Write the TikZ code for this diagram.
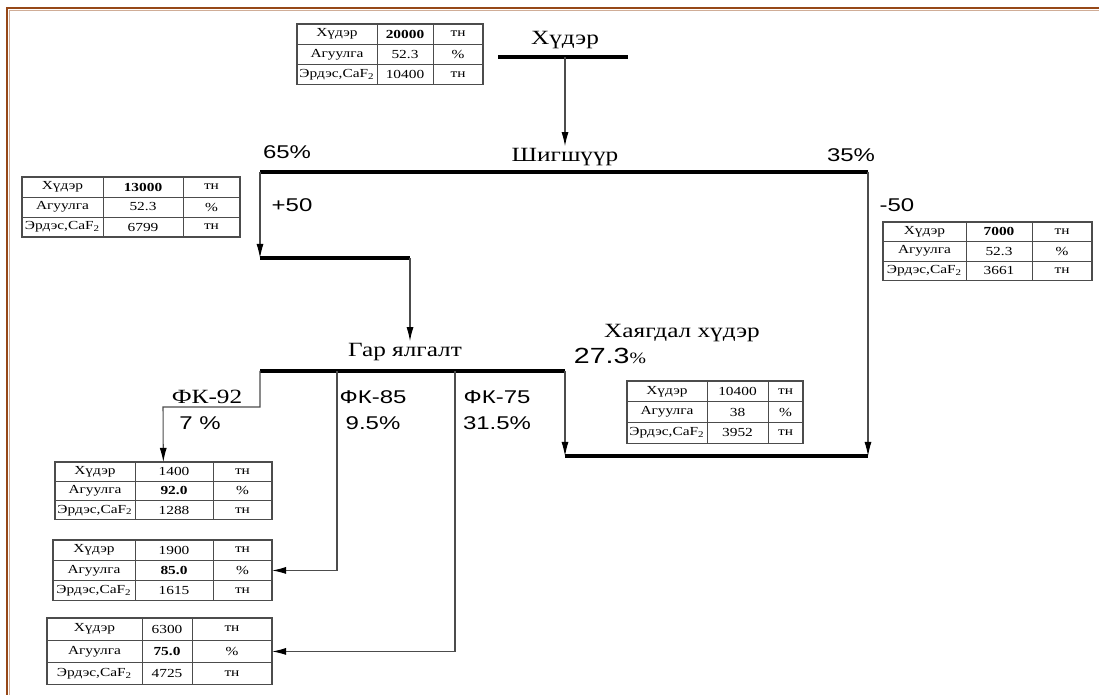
\documentclass[tikz,border=0pt]{standalone}
\usepackage{fontspec}
\setmainfont[FakeStretch=1.25]{Liberation Serif}
\newfontfamily\numfont[FakeStretch=1.3]{Liberation Sans}
\usetikzlibrary{arrows.meta}
\definecolor{framec}{RGB}{150,72,24}
\tikzset{
  bar/.style={line width=2pt,black},
  flow/.style={line width=0.6pt,black!70},
  flowarr/.style={flow,-{Latex[length=8pt,width=4pt,color=black]}},
  tabbox/.style={draw=black!70,line width=0.6pt,inner sep=0pt,outer sep=0pt},
  tabline/.style={black!70,line width=0.5pt},
  cell/.style={font=\fontsize{7}{8}\selectfont,inner sep=0pt},
  lab/.style={font=\fontsize{11.5}{13}\selectfont,inner sep=1pt},
  pct/.style={font=\numfont\fontsize{10.5}{12}\selectfont,inner sep=1pt},
}
% table: name, top-left, three column widths, row height, three values
\newcommand{\datatab}[9]{%
  \begin{scope}[shift={#2}]
    \node[tabbox,anchor=north west,minimum width={(#3+#4+#5)*0.02cm},minimum height={3*#6*0.02cm}] (#1) at (0,0) {};
    \draw[tabline] (#3,0) -- (#3,{3*#6}) ({#3+#4},0) -- ({#3+#4},{3*#6})
      (0,#6) -- ({#3+#4+#5},#6) (0,{2*#6}) -- ({#3+#4+#5},{2*#6});
    \node[cell] (#1-l1) at ({#3/2},{#6/2}) {Хүдэр};
    \node[cell] (#1-l2) at ({#3/2},{1.5*#6}) {Агуулга};
    \node[cell] (#1-l3) at ({#3/2},{2.5*#6}) {Эрдэс,CaF\textsubscript{2}};
    \node[cell] (#1-v1) at ({#3+#4/2},{#6/2}) {#7};
    \node[cell] (#1-v2) at ({#3+#4/2},{1.5*#6}) {#8};
    \node[cell] (#1-v3) at ({#3+#4/2},{2.5*#6}) {#9};
    \node[cell] (#1-u1) at ({#3+#4+#5/2},{#6/2}) {тн};
    \node[cell] (#1-u2) at ({#3+#4+#5/2},{1.5*#6}) {\%};
    \node[cell] (#1-u3) at ({#3+#4+#5/2},{2.5*#6}) {тн};
  \end{scope}}

\begin{document}
\begin{tikzpicture}[x=0.02cm,y=-0.02cm]
  \useasboundingbox (0,0) rectangle (1099,695);
  \draw[framec,line width=1.3pt] (7,695) -- (7,8) -- (1099,8);
  \draw[framec!45,line width=0.6pt] (9.3,695) -- (9.3,10.3) -- (1099,10.3);

  % tables
  \datatab{tfeed}{(297,24)}{80}{56}{50}{20.3}{\textbf{20000}}{52.3}{10400}
  \datatab{t65}{(22,177)}{81}{80}{57}{20}{\textbf{13000}}{52.3}{6799}
  \datatab{t35}{(883,222)}{83}{66}{60}{19.5}{\textbf{7000}}{52.3}{3661}
  \datatab{ttail}{(627,381)}{80}{61}{35}{20.7}{10400}{38}{3952}
  \datatab{t92}{(55,462)}{80}{78}{59}{19.3}{1400}{\textbf{92.0}}{1288}
  \datatab{t85}{(53,540)}{82}{78}{59}{20.3}{1900}{\textbf{85.0}}{1615}
  \datatab{t75}{(47,618)}{95}{50}{80}{22.3}{6300}{\textbf{75.0}}{4725}

  % ore feed
  \coordinate (feedw) at (498,57); \coordinate (feede) at (628,57);
  \coordinate (feedm) at (565,57);
  \node[lab] (feed) at (565,40) {Хүдэр};
  \draw[bar] (feedw) -- (feede);
  \node[lab] (screen) at (565,157) {Шигшүүр};
  \draw[flowarr] (feedm) -- (screen.north);

  % screen
  \coordinate (scrw) at (260,172); \coordinate (scre) at (868,172);
  \draw[bar] (scrw) -- (scre);
  \node[pct] (p65) at (287,152) {65\%};
  \node[pct] (p35) at (851,155) {35\%};
  \node[pct] (plus50) at (292,205) {+50};
  \node[pct] (minus50) at (897,205) {-50};
  \coordinate (finew) at (260,258); \coordinate (finee) at (410,258);
  \draw[flowarr] (scrw) -- (finew);
  \draw[bar] (finew) -- (finee);

  % hand sorting
  \node[lab] (hand) at (405,352) {Гар ялгалт};
  \draw[flowarr] (finee) -- (hand.north -| finee);
  \coordinate (handw) at (260,371); \coordinate (hande) at (565,371);
  \draw[bar] (handw) -- (hande);
  \coordinate (k85) at (337,371); \coordinate (k75) at (455,371);
  \coordinate (bend92) at (163,407);
  \draw[flowarr] (handw) |- (bend92) -- (t92);
  \draw[flowarr] (k85) |- (t85);
  \draw[flowarr] (k75) |- (t75);
  \node[lab] (fk92) at (207,397) {ФК-92};
  \node[pct] (p92) at (200,423) {7 \%};
  \node[pct] (fk85) at (373,397) {ФК-85};
  \node[pct] (p85) at (373,423) {9.5\%};
  \node[pct] (fk75) at (497,397) {ФК-75};
  \node[pct] (p75) at (497,423) {31.5\%};

  % tailings
  \node[lab] (tail) at (682,333) {Хаягдал хүдэр};
  \node[pct,font=\numfont\fontsize{12.5}{14}\selectfont] (p273) at (610,356) {27.3\textrm{\small\%}};
  \coordinate (tailw) at (565,456); \coordinate (taile) at (868,456);
  \draw[flowarr] (hande) -- (tailw);
  \draw[flowarr] (scre) -- (taile);
  \draw[bar] (tailw) -- (taile);
\end{tikzpicture}
\end{document}
